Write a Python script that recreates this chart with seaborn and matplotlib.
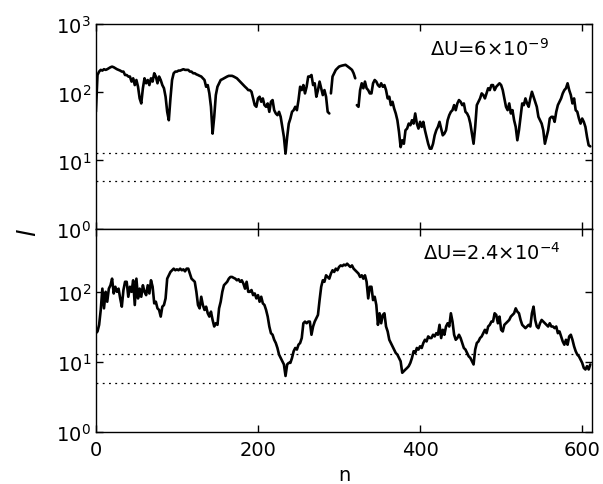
import numpy as np
import pandas as pd
import matplotlib
matplotlib.use("Agg")
import matplotlib.pyplot as plt
import seaborn as sns
from matplotlib.ticker import FixedLocator, FixedFormatter, NullLocator

# ---- data ----
n = list(range(0, 612, 2))

l_top = [
    51.8, 180, 202, 214, 209, 219, 214, 219, 226, 234,
    239, 234, 226, 219, 214, 209, 202, 202, 180, 180,
    171, 171, 144, 161, 128, 152, 121, 81.5, 68.8, 115,
    161, 136, 152, 128, 161, 144, 191, 171, 136, 171,
    152, 128, 115, 86.3, 51.8, 39, 81.5, 152, 191, 202,
    202, 209, 209, 214, 219, 214, 214, 214, 202, 202,
    191, 191, 184, 180, 175, 171, 161, 152, 121, 128,
    96.6, 61.4, 24.8, 43.7, 91.3, 121, 136, 152, 156, 161,
    166, 171, 175, 175, 175, 171, 166, 161, 152, 144,
    136, 128, 121, 115, 108, 108, 102, 81.5, 65, 61.4,
    81.5, 86.3, 72.8, 81.5, 65, 61.4, 68.8, 51.8, 72.8, 77.1,
    54.8, 49, 46.3, 51.8, 43.7, 31.1, 22.1, 12.6, 22.1, 34.8,
    41.3, 51.8, 54.8, 61.4, 54.8, 77.1, 121, 108, 128, 96.6,
    121, 171, 171, 180, 128, 136, 86.3, 108, 144, 115,
    91.3, 108, 86.3, 51.8, 49, 96.6, 171, 191, 214, 226,
    239, 244, 248, 251, 254, 244, 234, 224, 214, 191,
    161, 65, 61.4, 108, 136, 115, 144, 115, 108, 96.6,
    96.6, 136, 152, 144, 128, 121, 136, 121, 128, 108,
    81.5, 86.3, 65, 72.8, 58, 49, 39, 26.2, 15.7, 19.8,
    17.6, 27.8, 29.4, 34.8, 32.9, 39, 34.8, 49, 34.8, 29.4,
    36.9, 31.1, 36.9, 27.8, 22.1, 17.6, 14.9, 14.9, 17.6, 23.4,
    27.8, 31.1, 36.9, 29.4, 23.4, 24.8, 27.8, 39, 46.3, 51.8,
    54.8, 65, 54.8, 68.8, 77.1, 72.8, 65, 68.8, 51.8, 49,
    43.7, 34.8, 24.8, 17.6, 31.1, 65, 72.8, 81.5, 96.6, 91.3,
    81.5, 96.6, 115, 108, 128, 128, 108, 121, 128, 136,
    128, 108, 81.5, 61.4, 54.8, 68.8, 49, 54.8, 39, 31.1,
    19.8, 27.8, 43.7, 68.8, 65, 81.5, 68.8, 61.4, 81.5, 102,
    86.3, 72.8, 61.4, 43.7, 39, 34.8, 27.8, 17.6, 22.1, 27.8,
    41.3, 43.7, 43.7, 36.9, 51.8, 65, 72.8, 81.5, 96.6, 108,
    115, 136, 108, 91.3, 68.8, 81.5, 54.8, 51.8, 41.3, 34.8,
    41.3, 36.9, 31.1, 22.1, 16.7, 16.1,
]
seg_top = [0] * 145 + [1] * 16 + [2] * 145

l_bottom = [
    25.7, 27.2, 33.8, 55.1, 111, 58.1, 100, 72.2, 111, 124,
    154, 94.7, 118, 100, 111, 80.5, 61.4, 106, 139, 139,
    85, 118, 100, 146, 64.8, 154, 80.5, 111, 85, 124,
    100, 89.7, 124, 94.7, 146, 118, 68.4, 72.2, 58.1, 55.1,
    44.3, 61.4, 64.8, 80.5, 154, 172, 192, 203, 214, 203,
    209, 203, 214, 203, 209, 196, 214, 214, 182, 154,
    146, 139, 100, 64.8, 58.1, 85, 64.8, 55.1, 61.4, 49.4,
    44.3, 52.1, 39.7, 32, 35.6, 33.8, 58.1, 72.2, 100, 124,
    131, 139, 154, 163, 163, 158, 154, 146, 151, 139,
    146, 131, 111, 139, 100, 100, 106, 89.7, 94.7, 80.5,
    89.7, 72.2, 85, 68.4, 64.8, 55.1, 44.3, 32, 25.7, 24.4,
    20.7, 18.6, 15.8, 12.7, 11.4, 10.2, 9.2, 6.3, 9.2, 9.7,
    9.7, 11.4, 14.2, 15.8, 15, 17.6, 18.6, 21.9, 35.6, 37.6,
    35.6, 37.6, 37.6, 24.4, 32, 37.6, 42, 46.8, 76.2, 118,
    146, 139, 172, 163, 154, 182, 203, 192, 214, 203,
    226, 238, 233, 244, 238, 252, 238, 226, 238, 214,
    203, 192, 182, 163, 172, 154, 172, 139, 80.5, 118,
    118, 76.2, 85, 64.8, 33.8, 49.4, 35.6, 46.8, 49.4, 32,
    27.2, 20.7, 18.6, 16.7, 15, 13.4, 12.7, 11.4, 10.2, 7.0,
    7.4, 7.8, 8.2, 8.7, 9.7, 11.4, 14.2, 13.4, 15.8, 15,
    16.7, 15.8, 18.6, 20.7, 19.6, 23.1, 21.9, 21.9, 24.4, 23.1,
    25.7, 24.4, 33.8, 21.9, 28.7, 24.4, 32, 35.6, 32, 49.4,
    37.6, 24.4, 20.7, 21.9, 24.4, 21.9, 18.6, 15.8, 15, 13.4,
    12, 11.4, 10.2, 9.2, 15, 18.6, 19.6, 21.9, 23.1, 25.7,
    28.7, 25.7, 32, 33.8, 37.6, 37.6, 49.4, 46.8, 35.6, 44.3,
    28.7, 27.2, 33.8, 35.6, 37.6, 39.7, 44.3, 46.8, 49.4, 58.1,
    52.1, 49.4, 39.7, 33.8, 32, 30.3, 32, 33.8, 32, 49.4,
    61.4, 39.7, 32, 30.3, 35.6, 39.7, 37.6, 35.6, 33.8, 32,
    35.6, 32, 32, 30.3, 32, 25.7, 27.2, 23.1, 19.6, 17.6,
    20.7, 17.6, 23.1, 24.4, 20.7, 16.7, 14.2, 12.7, 12, 10.8,
    9.7, 8.2, 7.8, 8.7, 7.8, 9.2,
]
seg_bottom = [0] * 306

ref_levels = [12.8, 5.0]
panel_labels = ["ΔU=6×10$^{-9}$", "ΔU=2.4×10$^{-4}$"]
x_ticks = [0, 200, 400, 600]
y_ticks = [1, 10, 100, 1000]
y_ticklabels = ["10$^{0}$", "10$^{1}$", "10$^{2}$", "10$^{3}$"]

# ---- style ----
sns.set_style("ticks")
plt.rcParams["font.family"] = ["DejaVu Sans"]
plt.rcParams["mathtext.default"] = "regular"
plt.rcParams["text.color"] = "black"
plt.rcParams["axes.labelcolor"] = "black"
plt.rcParams["xtick.color"] = "black"
plt.rcParams["ytick.color"] = "black"

fig = plt.figure(figsize=(6.03, 4.85), dpi=100)
ax1 = fig.add_axes([0.159, 0.5268, 0.8226, 0.421])
ax2 = fig.add_axes([0.159, 0.1072, 0.8226, 0.4196])

df_top = pd.DataFrame({"n": n, "l": l_top, "seg": seg_top})
df_bot = pd.DataFrame({"n": n, "l": l_bottom, "seg": seg_bottom})

for ax, df, lab, lab_xy, ytop in [
    (ax1, df_top, panel_labels[0], (0.673, 0.885), 1000),
    (ax2, df_bot, panel_labels[1], (0.660, 0.885), 800),
]:
    sns.lineplot(data=df, x="n", y="l", units="seg", estimator=None,
                 color="black", linewidth=1.9, ax=ax, legend=False)
    ax.set_yscale("log")
    ax.set_ylim(1, ytop)
    ax.set_xlim(0, 612)
    for lv in ref_levels:
        ax.axhline(lv, color="black", linewidth=0.9, linestyle=(0, (1.5, 3.5)))
    ax.yaxis.set_major_locator(FixedLocator(y_ticks))
    ax.yaxis.set_major_formatter(FixedFormatter(y_ticklabels))
    ax.yaxis.set_minor_locator(NullLocator())
    ax.xaxis.set_major_locator(FixedLocator(x_ticks))
    ax.tick_params(which="both", direction="in", top=True, right=True,
                   length=5, width=1, labelsize=14, colors="black")
    ax.tick_params(axis="x", pad=6)
    for sp in ax.spines.values():
        sp.set_linewidth(1.0)
        sp.set_color("black")
    ax.set_xlabel("")
    ax.set_ylabel("")
    ax.text(lab_xy[0], lab_xy[1], lab, transform=ax.transAxes,
            fontsize=14, ha="left", va="center", color="black")

ax1.tick_params(labelbottom=False)
ax2.set_xlabel("n", fontsize=14, labelpad=4, color="black")
fig.text(28 / 603, 1 - 232 / 485, "l", style="italic", fontsize=18,
         rotation=90, ha="center", va="center", color="black")

fig.savefig("out.png", dpi=100)
